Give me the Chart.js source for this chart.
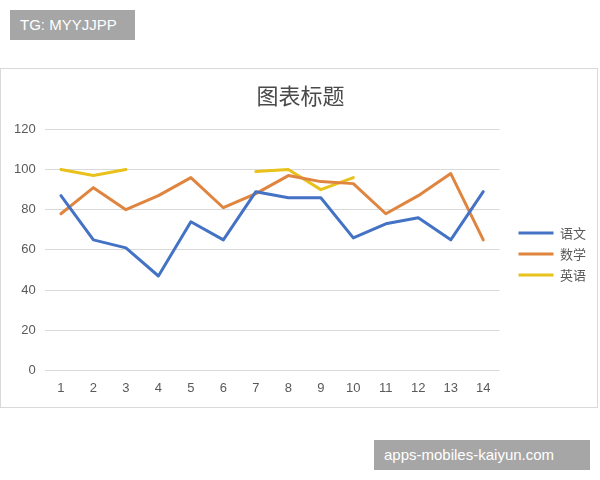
<!DOCTYPE html>
<html>
<head>
<meta charset="utf-8">
<script src="https://cdn.jsdelivr.net/npm/chart.js@4/dist/chart.umd.min.js"></script>
<style>
  html, body { margin:0; padding:0; background:#fff; width:600px; height:480px; overflow:hidden; }
  .tag { position:absolute; background:#a6a6a6; color:#fff; font-family:"Liberation Sans", Arial, sans-serif; font-size:15px; line-height:30px; padding:0 10px; }
  #tag1 { left:10px; top:10px; width:105px; }
  #tag2 { left:374px; top:440px; width:196px; }
  #box { position:absolute; left:0; top:68px; width:596px; height:338px; border:1px solid #d9d9d9; }
  #box canvas { display:block; }
</style>
</head>
<body>
<div class="tag" id="tag1">TG: MYYJJPP</div>
<div id="box"><canvas id="chart" width="596" height="338"></canvas></div>
<div class="tag" id="tag2">apps-mobiles-kaiyun.com</div>
<script>
// dados
const categorias = ['1','2','3','4','5','6','7','8','9','10','11','12','13','14'];
const yuwen   = [87, 65, 61, 47, 74, 65, 89, 86, 86, 66, 73, 76, 65, 89];
const shuxue  = [78, 91, 80, 87, 96, 81, 88, 97, 94, 93, 78, 87, 98, 65];
const yingyu  = [100, 97, 100, null, null, null, 99, 100, 90, 96, null, null, null, null];
const yTicks  = [0, 20, 40, 60, 80, 100, 120];

const corTexto = '#595959';
const fonteNum = { family: "'Liberation Sans', Arial, sans-serif", size: 13 };
const fonteCJK = { family: "'Noto Sans CJK SC', sans-serif", size: 13 };

const serie = (label, data, cor) => ({
  label, data, borderColor: cor, backgroundColor: cor,
  borderWidth: 3, pointRadius: 0, tension: 0, spanGaps: false,
  pointStyle: 'line', borderCapStyle: 'round', borderJoinStyle: 'round'
});

new Chart(document.getElementById('chart').getContext('2d'), {
  type: 'line',
  data: {
    labels: categorias,
    datasets: [
      serie('语文', yuwen,  '#4472C4'),
      serie('数学', shuxue, '#E0853F'),
      serie('英语', yingyu, '#E8C21A'),
    ]
  },
  options: {
    responsive: false, animation: false,
    layout: { padding: { left: 4, right: 1, top: 0, bottom: 9 } },
    plugins: {
      title: {
        display: true, text: '图表标题', color: '#4a4a4a',
        font: { family: "'Noto Sans CJK SC', sans-serif", size: 22, weight: 'normal' },
        padding: { top: 13, bottom: 21 }
      },
      legend: {
        position: 'right', fullSize: false,
        title: { display: true, text: ' ', font: { size: 1 }, padding: { top: 7, bottom: 0 } },
        labels: { color: corTexto, font: fonteCJK, usePointStyle: true, pointStyleWidth: 35, boxWidth: 35, boxHeight: 6, padding: 8 }
      },
      tooltip: { enabled: false }
    },
    scales: {
      x: {
        offset: true,
        grid: { display: false },
        border: { display: false },
        ticks: { color: corTexto, font: fonteNum, padding: 2, maxRotation: 0 }
      },
      y: {
        min: 0, max: 120,
        afterBuildTicks: ax => { ax.ticks = yTicks.map(v => ({ value: v })); },
        grid: { color: '#d9d9d9', drawTicks: false },
        border: { display: false },
        ticks: { color: corTexto, font: fonteNum, padding: 9 }
      },
      // espaço vazio entre a área do gráfico e a legenda
      gap: {
        position: 'right', display: true,
        grid: { display: false }, border: { display: false }, ticks: { display: false },
        afterFit: s => { s.width = 11; }
      }
    }
  }
});
</script>
</body>
</html>
